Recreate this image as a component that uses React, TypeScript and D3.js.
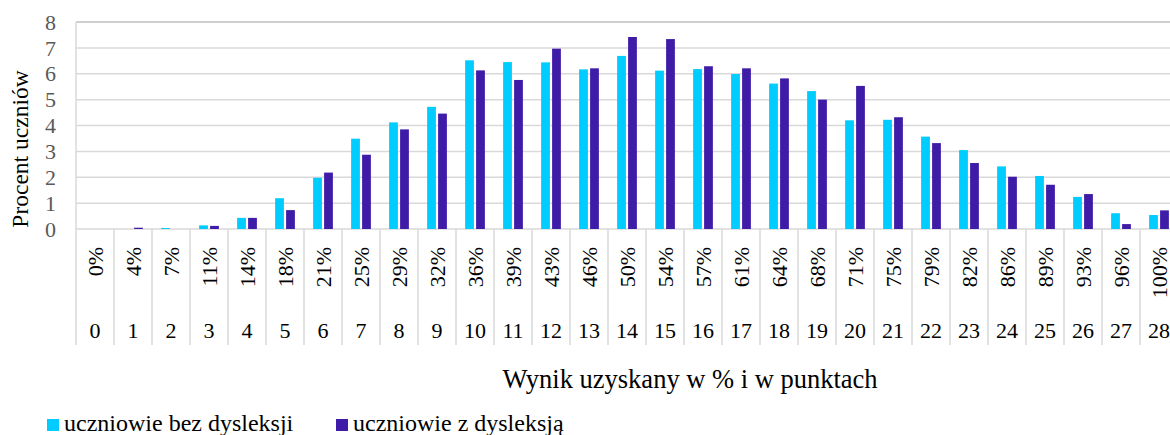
import { useEffect, useRef } from "react";
import * as d3 from "d3";

const points = ["0","1","2","3","4","5","6","7","8","9","10","11","12","13","14","15","16","17","18","19","20","21","22","23","24","25","26","27","28"];
const percents = ["0%","4%","7%","11%","14%","18%","21%","25%","29%","32%","36%","39%","43%","46%","50%","54%","57%","61%","64%","68%","71%","75%","79%","82%","86%","89%","93%","96%","100%"];
const bezDysleksji = [0, 0, 0.04, 0.14, 0.43, 1.19, 1.98, 3.49, 4.12, 4.72, 6.52, 6.45, 6.44, 6.17, 6.69, 6.12, 6.18, 5.99, 5.62, 5.33, 4.2, 4.22, 3.57, 3.05, 2.42, 2.05, 1.24, 0.61, 0.54];
const zDysleksja = [0, 0.05, 0, 0.12, 0.43, 0.73, 2.18, 2.87, 3.85, 4.46, 6.13, 5.76, 6.97, 6.21, 7.42, 7.34, 6.29, 6.21, 5.82, 5.0, 5.53, 4.32, 3.32, 2.55, 2.02, 1.71, 1.35, 0.19, 0.72];
const seriesNames = ["uczniowie bez dysleksji", "uczniowie z dysleksją"];
const seriesColors = ["#00ccff", "#3f1ca8"];
const yTicks = [0, 1, 2, 3, 4, 5, 6, 7, 8];

const FONT = "'Liberation Serif', 'Times New Roman', serif";

function Chart({ width, height }) {
  const ref = useRef(null);

  useEffect(() => {
    const margin = { left: 76, top: 22 };
    const plot = { right: 1178, bottom: 229 };
    const labelsBottom = 345;

    const el = d3.select(ref.current);
    el.selectAll("*").remove();

    const x = d3.scaleBand().domain(points).range([margin.left, plot.right]);
    const cw = x.bandwidth();
    const x1 = d3
      .scaleBand()
      .domain(seriesNames)
      .range([cw * 0.24, cw * 0.76])
      .paddingInner(0.2);
    const y = d3.scaleLinear().domain([0, 8]).range([plot.bottom, margin.top]);

    // gridlines
    el.append("g")
      .selectAll("line")
      .data(yTicks)
      .enter()
      .append("line")
      .attr("x1", margin.left)
      .attr("x2", plot.right)
      .attr("y1", (d) => y(d))
      .attr("y2", (d) => y(d))
      .attr("stroke", (d) => (d === 8 ? "#bfbfbf" : "#d9d9d9"))
      .attr("stroke-width", 1.5);

    // category separators
    const seps = points.map((p) => x(p)).concat([plot.right]);
    el.append("g")
      .selectAll("line")
      .data(seps)
      .enter()
      .append("line")
      .attr("x1", (d) => d)
      .attr("x2", (d) => d)
      .attr("y1", (d, i) => (i === 0 ? margin.top : plot.bottom))
      .attr("y2", labelsBottom)
      .attr("stroke", "#d9d9d9")
      .attr("stroke-width", 1.5);

    // bars
    const rows = points.map((p, i) => ({
      p,
      values: [bezDysleksji[i], zDysleksja[i]],
    }));
    const groups = el
      .append("g")
      .selectAll("g")
      .data(rows)
      .enter()
      .append("g")
      .attr("transform", (d) => `translate(${x(d.p)},0)`);
    groups
      .selectAll("rect")
      .data((d) => d.values.map((v, k) => ({ v, k })))
      .enter()
      .append("rect")
      .attr("x", (d) => x1(seriesNames[d.k]))
      .attr("y", (d) => y(d.v))
      .attr("width", x1.bandwidth())
      .attr("height", (d) => plot.bottom - y(d.v))
      .attr("fill", (d) => seriesColors[d.k]);

    // y axis labels
    el.append("g")
      .selectAll("text")
      .data(yTicks)
      .enter()
      .append("text")
      .attr("x", 56)
      .attr("y", (d) => y(d))
      .attr("dy", "0.35em")
      .attr("text-anchor", "end")
      .attr("font-family", FONT)
      .attr("font-size", 22)
      .attr("fill", "#595959")
      .text((d) => d);

    el.append("text")
      .attr("transform", "translate(20,149) rotate(-90)")
      .attr("dy", "0.35em")
      .attr("text-anchor", "middle")
      .attr("font-family", FONT)
      .attr("font-size", 23.5)
      .attr("fill", "#000")
      .text("Procent uczniów");

    // x labels: percent (rotated) and points
    points.forEach((p, i) => {
      const cx = x(p) + cw / 2;
      el.append("text")
        .attr("transform", `translate(${cx},247) rotate(-90)`)
        .attr("dy", "0.35em")
        .attr("text-anchor", "end")
        .attr("font-family", FONT)
        .attr("font-size", 22)
        .attr("fill", "#000")
        .text(percents[i]);
      el.append("text")
        .attr("x", cx)
        .attr("y", 338)
        .attr("text-anchor", "middle")
        .attr("font-family", FONT)
        .attr("font-size", 22)
        .attr("fill", "#000")
        .text(p);
    });

    el.append("text")
      .attr("x", 690)
      .attr("y", 388)
      .attr("text-anchor", "middle")
      .attr("font-family", FONT)
      .attr("font-size", 26.5)
      .attr("fill", "#000")
      .text("Wynik uzyskany w % i w punktach");

    // legend
    const legendX = [47, 336];
    seriesNames.forEach((s, k) => {
      el.append("rect")
        .attr("x", legendX[k])
        .attr("y", 419)
        .attr("width", 12)
        .attr("height", 12)
        .attr("fill", seriesColors[k]);
      el.append("text")
        .attr("x", legendX[k] + 17)
        .attr("y", 431)
        .attr("font-family", FONT)
        .attr("font-size", 24)
        .attr("fill", "#000")
        .text(s);
    });
  }, [width, height]);

  return (
    <svg
      ref={ref}
      width={width}
      height={height}
      style={{ position: "absolute", left: 0, top: 0, background: "#fff" }}
    />
  );
}

export default function App() {
  return <Chart width={1170} height={435} />;
}
